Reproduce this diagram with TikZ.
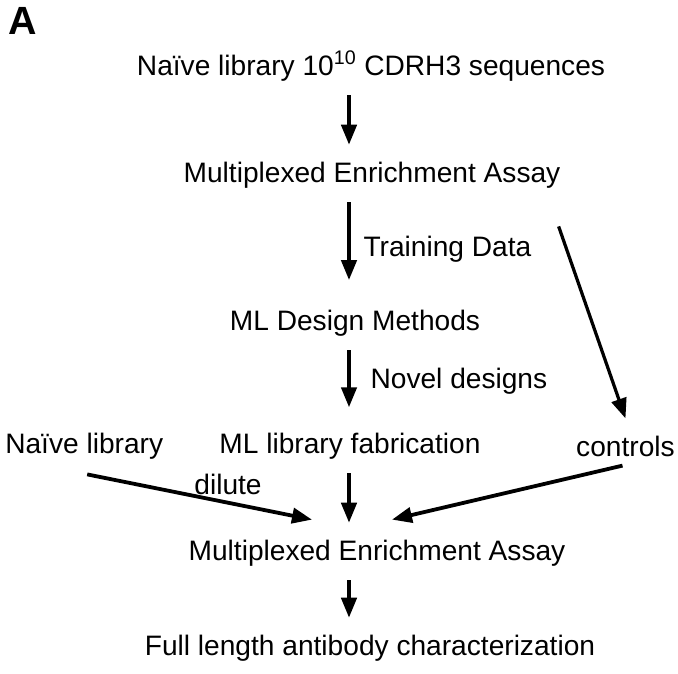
\documentclass[tikz,border=0pt]{standalone}
\usepackage{fontspec}
\setmainfont{Liberation Sans}
\usetikzlibrary{arrows.meta, positioning}
\tikzset{
  lbl/.style={inner sep=0pt, font=\fontsize{20}{24}\selectfont},
  arr/.style={-{Triangle[length=5mm, width=3.8mm]}, line width=2.7pt, black},
}

\begin{document}
\begin{tikzpicture}[x=0.025cm, y=-0.025cm]
\useasboundingbox (0,0) rectangle (678,673);

\node[font=\fontsize{28}{30}\selectfont\bfseries, inner sep=0pt] (panel) at (23,21) {A};

\node[lbl] (naive) at (371,66) {Naïve library 10\textsuperscript{10} CDRH3 sequences};
\node[lbl] (assay1) at (372,175) {Multiplexed Enrichment Assay};
\node[lbl] (design) at (355,323) {ML Design Methods};
\node[lbl] (fab) at (350,446) {ML library fabrication};
\node[lbl, anchor=west] (naive2) at (5,446) {Naïve library};
\node[lbl, anchor=east] (controls) at (675,446) {controls};
\node[lbl] (assay2) at (377,553) {Multiplexed Enrichment Assay};
\node[lbl] (full) at (370,648) {Full length antibody characterization};
\coordinate (col) at (349,0);

% side arrows
\draw[arr, line width=2.3pt] ([shift={(-2,38)}]assay1.south east) -- ([shift={(0,-17)}]controls.north);
\draw[arr] ([shift={(3,15)}]naive2.south) -- ([shift={(-65,-20)}]assay2.north);
\draw[arr] ([shift={(-3,9)}]controls.south) -- ([shift={(15,-20)}]assay2.north);
\node[lbl] (dilute) at (228,484) {dilute};

% main column
\draw[arr, shorten <=10pt, shorten >=12pt] (naive.south -| col) -- (assay1.north -| col);
\draw[arr, shorten <=10pt, shorten >=21pt] (assay1.south -| col) -- node[lbl, right=9pt] {Training Data} (design.north -| col);
\draw[arr, shorten <=10pt, shorten >=18pt] (design.south -| col) -- node[lbl, right=14pt, yshift=2pt] {Novel designs} (fab.north -| col);
\draw[arr, shorten <=10pt, shorten >=12pt] (fab.south -| col) -- (assay2.north -| col);
\draw[arr, shorten <=10pt, shorten >=12pt] (assay2.south -| col) -- (full.north -| col);

\end{tikzpicture}
\end{document}
